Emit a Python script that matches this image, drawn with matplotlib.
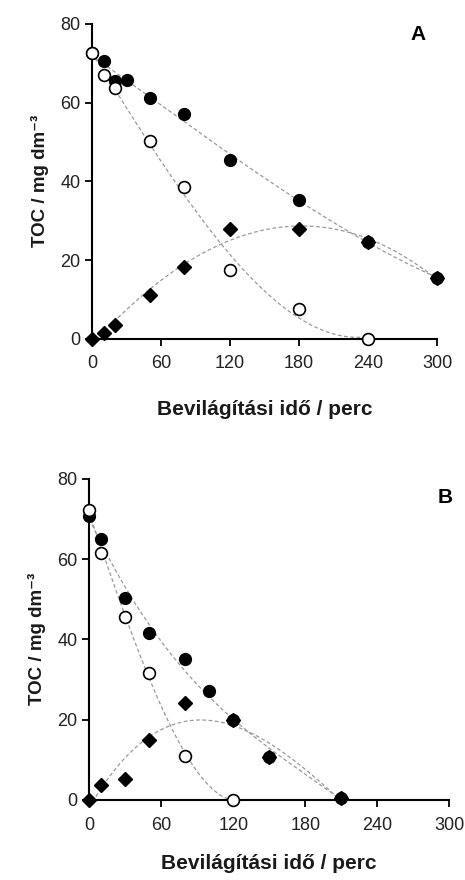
import numpy as np
import matplotlib
matplotlib.use('Agg')
import matplotlib.pyplot as plt

plt.rcParams['font.family'] = ['Liberation Sans', 'DejaVu Sans']

# A panel
tA = [0, 10, 20, 30, 50, 80, 120, 180, 240, 300]
teliA = [72.5, 70.5, 65.5, 65.8, 61.2, 57.2, 45.5, 35.2, 24.5, 15.5]
t_uresA = [0, 10, 20, 50, 80, 120, 180, 240]
uresA = [72.5, 67.0, 63.8, 50.2, 38.5, 17.5, 7.5, 0.0]
t_rombA = [0, 10, 20, 50, 80, 120, 180, 240, 300]
rombA = [0.0, 1.5, 3.5, 11.0, 18.3, 28.0, 28.0, 24.5, 15.5]

# B panel
tB = [0, 10, 30, 50, 80, 100, 120, 150, 210]
teliB = [70.7, 65.0, 50.3, 41.5, 35.2, 27.2, 20.0, 10.7, 0.5]
t_uresB = [0, 10, 30, 50, 80, 120]
uresB = [72.2, 61.5, 45.5, 31.5, 10.9, 0.0]
t_rombB = [0, 10, 30, 50, 80, 120, 150, 210]
rombB = [0.0, 3.8, 5.1, 15.0, 24.2, 20.0, 10.7, 0.5]

xticks = [0, 60, 120, 180, 240, 300]
yticks = [0, 20, 40, 60, 80]


def trend(ax, x, y, deg=3):
    # polinom illesztés, szaggatott szürke vonal
    p = np.polyfit(x, y, deg)
    xx = np.linspace(min(x), max(x), 200)
    ax.plot(xx, np.polyval(p, xx), '--', color='#9a9a9a', lw=0.9,
            dashes=(3, 2), zorder=1)


def panel(ax, t1, y1, t2, y2, t3, y3, betu, betu_xy, lpad):
    trend(ax, t1, y1)
    trend(ax, t2, y2)
    trend(ax, t3, y3)
    ax.plot(t3, y3, 'D', color='black', ms=7.5, clip_on=False, zorder=3)
    ax.plot(t1, y1, 'o', color='black', ms=8.5, clip_on=False, zorder=4)
    ax.plot(t2, y2, 'o', mfc='white', mec='black', mew=1.2, ms=8.5,
            clip_on=False, zorder=5)
    ax.set_xlim(0, 300)
    ax.set_ylim(0, 80)
    ax.set_xticks(xticks)
    ax.set_yticks(yticks)
    for s in ['top', 'right']:
        ax.spines[s].set_visible(False)
    for s in ['left', 'bottom']:
        ax.spines[s].set_linewidth(1.5)
    ax.tick_params(direction='out', length=5, width=1.3, labelsize=13,
                   labelcolor='#222222')
    ax.tick_params(axis='x', pad=7)
    ax.set_xlabel('Bevilágítási idő / perc', fontsize=15,
                  fontweight='bold', labelpad=lpad, color='#1a1a1a')
    ax.set_ylabel('TOC / mg dm⁻³', fontsize=13.5,
                  fontweight='bold', labelpad=8, color='#1a1a1a')
    ax.text(betu_xy[0], betu_xy[1], betu, transform=ax.transAxes,
            fontsize=15, fontweight='bold', ha='center', va='center')


fig = plt.figure(figsize=(4.65, 8.8), dpi=100)
axA = fig.add_axes([0.198, 0.615, 0.742, 0.358])
axB = fig.add_axes([0.192, 0.091, 0.774, 0.365])

panel(axA, tA, teliA, t_uresA, uresA, t_rombA, rombA, 'A', (0.945, 0.965), 20)
panel(axB, tB, teliB, t_uresB, uresB, t_rombB, rombB, 'B', (0.99, 0.94), 15)

fig.savefig('out.png', dpi=100)
